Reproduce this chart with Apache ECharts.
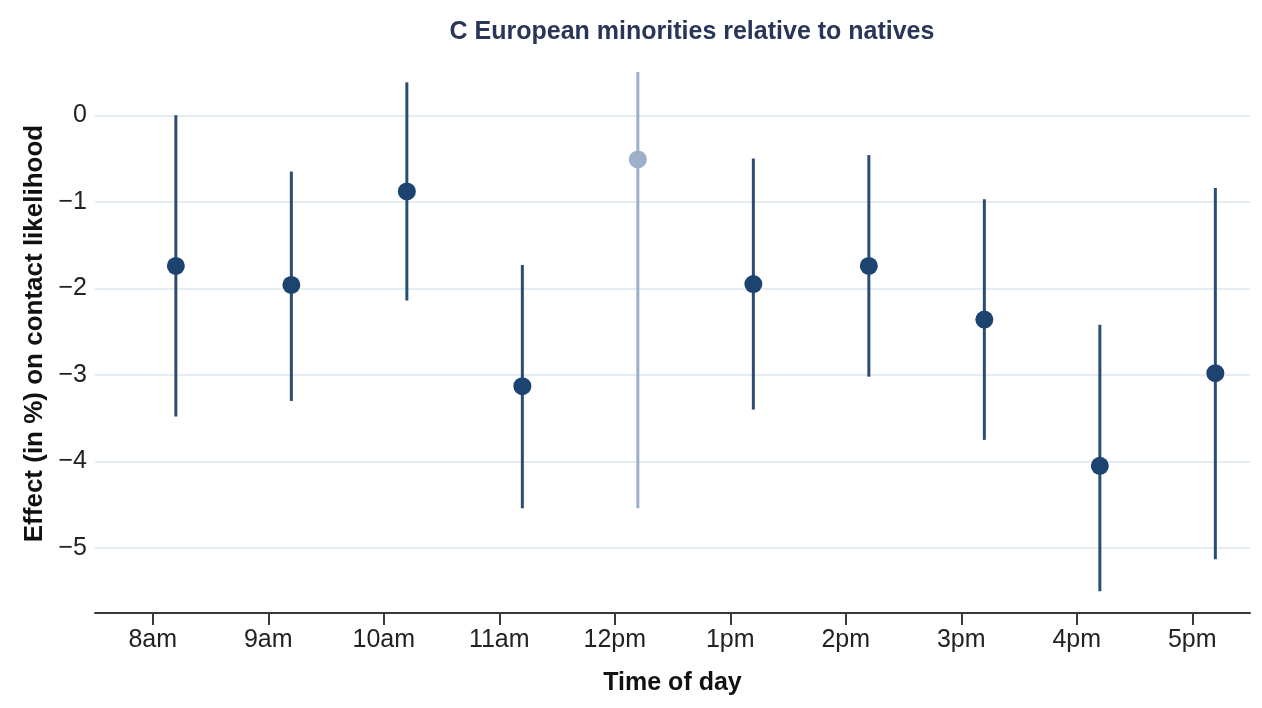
<!DOCTYPE html>
<html>
<head>
<meta charset="utf-8">
<script src="https://cdn.jsdelivr.net/npm/echarts@6/dist/echarts.min.js"></script>
<style>
html,body{margin:0;padding:0;background:#fff;}
#chart{width:1262px;height:708px;}
</style>
</head>
<body>
<div id="chart"></div>
<script>
const categories = ['8am','9am','10am','11am','12pm','1pm','2pm','3pm','4pm','5pm'];
const estimates = [-1.74, -1.96, -0.88, -3.13, -0.51, -1.95, -1.74, -2.36, -4.05, -2.98];
const lower     = [-3.48, -3.30, -2.14, -4.54, -4.54, -3.40, -3.02, -3.75, -5.50, -5.13];
const upper     = [ 0.00, -0.65,  0.38, -1.73,  0.50, -0.50, -0.46, -0.97, -2.42, -0.84];
const faded     = [false, false, false, false, true, false, false, false, false, false];
const yTicks    = [0, -1, -2, -3, -4, -5];

const DARK_PT = '#1d4470';
const DARK_LN = '#2b4d74';
const LIGHT = '#9cb1c9';
const OFFSET = 0.2;
const FONT = '"Liberation Sans", Arial, Helvetica, sans-serif';

const pointData = estimates.map((v, i) => ({
  value: [i + OFFSET, v],
  itemStyle: { color: faded[i] ? LIGHT : DARK_PT, opacity: 1 }
}));
const barData = estimates.map((v, i) => [i + OFFSET, lower[i], upper[i], faded[i] ? 1 : 0]);

const chart = echarts.init(document.getElementById('chart'), null, { renderer: 'canvas' });
chart.setOption({
  animation: false,
  backgroundColor: '#ffffff',
  title: {
    text: 'C European minorities relative to natives',
    left: 687,
    top: 15,
    textAlign: 'center',
    textStyle: { fontFamily: FONT, fontSize: 25, fontWeight: 'bold', color: '#2a3658' }
  },
  grid: { left: 95, right: 12, top: 72, bottom: 95, containLabel: false },
  xAxis: [
    {
      type: 'category',
      data: categories,
      boundaryGap: true,
      name: 'Time of day',
      nameLocation: 'middle',
      nameGap: 58,
      nameTextStyle: { fontFamily: FONT, fontSize: 25, fontWeight: 'bold', color: '#111' },
      axisLine: { show: true, onZero: false, lineStyle: { color: '#3a3a3a', width: 2 } },
      axisTick: { show: true, alignWithLabel: true, length: 12, lineStyle: { color: '#3a3a3a', width: 2 } },
      axisLabel: { fontFamily: FONT, fontSize: 25, color: '#222', margin: 15 },
      splitLine: { show: false }
    },
    {
      type: 'value',
      min: -0.5,
      max: 9.5,
      show: false
    }
  ],
  yAxis: {
    type: 'value',
    min: -5.75,
    max: 0.5,
    name: 'Effect (in %) on contact likelihood',
    nameLocation: 'middle',
    nameGap: 47,
    nameTextStyle: { fontFamily: FONT, fontSize: 26, fontWeight: 'bold', color: '#111', padding: [0, 0, 0, 18] },
    axisLine: { show: false },
    axisTick: { show: false },
    splitLine: { show: false },
    axisLabel: {
      fontFamily: FONT, fontSize: 25, color: '#222', margin: 8,
      showMinLabel: false, showMaxLabel: false,
      formatter: function (v) {
        if (Math.abs(v - Math.round(v)) > 1e-6) return '';
        const r = Math.round(v);
        return r < 0 ? '\u2212' + Math.abs(r) : String(r);
      }
    }
  },
  series: [
    {
      type: 'line',
      xAxisIndex: 1,
      data: [],
      silent: true,
      z: 0,
      markLine: {
        silent: true,
        z: 0,
        symbol: ['none', 'none'],
        label: { show: false },
        lineStyle: { color: '#e6edf2', width: 2, type: 'solid' },
        data: yTicks.map(t => ({ yAxis: t }))
      }
    },
    {
      type: 'custom',
      xAxisIndex: 1,
      data: barData,
      renderItem: function (params, api) {
        const x = api.value(0);
        const p1 = api.coord([x, api.value(1)]);
        const p2 = api.coord([x, api.value(2)]);
        return {
          type: 'line',
          shape: { x1: p1[0], y1: p1[1], x2: p2[0], y2: p2[1] },
          style: { stroke: api.value(3) ? LIGHT : DARK_LN, lineWidth: 3 }
        };
      },
      encode: { x: 0, y: [1, 2] },
      z: 6
    },
    {
      type: 'scatter',
      xAxisIndex: 1,
      data: pointData,
      symbol: 'circle',
      symbolSize: 18,
      z: 7
    }
  ]
});
</script>
</body>
</html>
